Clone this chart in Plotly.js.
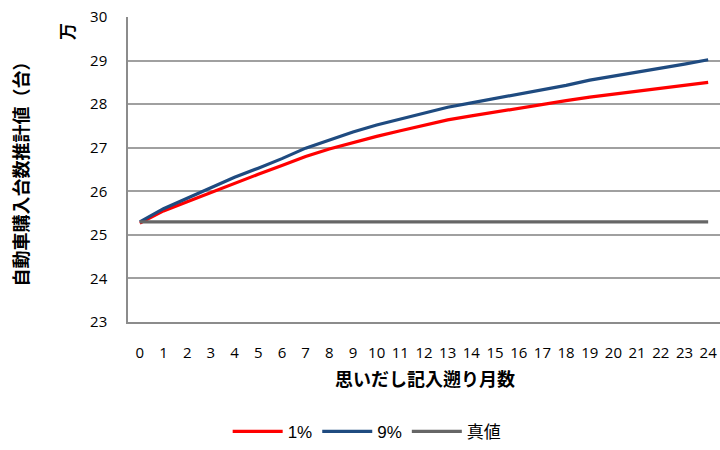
<!DOCTYPE html>
<html><head><meta charset="utf-8">
<script src="https://cdn.plot.ly/plotly-3.0.1.min.js"></script>
<style>html,body{margin:0;padding:0;background:#fff}</style>
</head><body>
<div id="chart" style="width:720px;height:450px"></div>
<script>
const months = ["0","1","2","3","4","5","6","7","8","9","10","11","12","13","14","15","16","17","18","19","20","21","22","23","24"];
const series1pct = [25.27,25.55,25.76,25.97,26.19,26.39,26.59,26.80,26.97,27.12,27.26,27.39,27.52,27.64,27.73,27.82,27.91,28.00,28.08,28.16,28.23,28.30,28.37,28.43,28.50];
const series9pct = [25.30,25.60,25.84,26.08,26.32,26.53,26.75,26.99,27.17,27.36,27.52,27.66,27.80,27.93,28.03,28.13,28.23,28.32,28.43,28.55,28.64,28.74,28.83,28.92,29.02];
const trueValue = [25.30,25.30,25.30,25.30,25.30,25.30,25.30,25.30,25.30,25.30,25.30,25.30,25.30,25.30,25.30,25.30,25.30,25.30,25.30,25.30,25.30,25.30,25.30,25.30,25.30];
const names = ["1%","9%","真値"];
const colors = ["#ff0000","#1f4b80","#666666"];

const jp = '"Noto Sans CJK JP", "Noto Sans", sans-serif';
const num = '"Open Sans", "Liberation Sans", sans-serif';
const leg = '"Liberation Sans", "Noto Sans CJK JP", sans-serif';

const traces = [series1pct, series9pct, trueValue].map((ys, i) => ({
  x: months, y: ys, type: 'scatter', mode: 'lines', name: names[i],
  line: {color: colors[i], width: 3.2}
}));

const layout = {
  width: 720, height: 450,
  margin: {l: 128, r: 0, t: 17, b: 124},
  paper_bgcolor: '#fff', plot_bgcolor: '#fff',
  showlegend: true,
  legend: {orientation: 'h', x: 0.404, xanchor: 'center', y: -0.36, yanchor: 'middle',
           itemwidth: 50, font: {family: leg, size: 17, color: '#000'}},
  xaxis: {type: 'category', range: [-0.5, 24.5], showgrid: false, zeroline: false,
          showline: true, linecolor: '#8c8c8c', linewidth: 1.5, ticks: '',
          tickfont: {family: num, size: 15, color: '#000'}, ticklabelstandoff: 16},
  yaxis: {range: [23, 30], dtick: 1, showgrid: true, gridcolor: '#a0a0a0', gridwidth: 1.5,
          zeroline: false, showline: true, linecolor: '#8c8c8c', linewidth: 1.5, ticks: '',
          tickfont: {family: num, size: 15, color: '#000'}, ticklabelstandoff: 16},
  annotations: [
    {text: '<b>自動車購入台数推計値（台）</b>', xref: 'paper', yref: 'paper', x: -0.184, y: 0.5,
     xanchor: 'center', yanchor: 'middle', textangle: -90, showarrow: false,
     font: {family: jp, size: 18, color: '#000'}},
    {text: '<b>万</b>', xref: 'paper', yref: 'paper', x: -0.103, y: 0.951,
     xanchor: 'center', yanchor: 'middle', textangle: -90, showarrow: false,
     font: {family: jp, size: 17, color: '#000'}},
    {text: '<b>思いだし記入遡り月数</b>', xref: 'paper', yref: 'paper', x: 0.502, y: -0.184,
     xanchor: 'center', yanchor: 'middle', showarrow: false,
     font: {family: jp, size: 18, color: '#000'}}
  ]
};
Plotly.newPlot('chart', traces, layout, {displayModeBar: false});
</script>
</body></html>
